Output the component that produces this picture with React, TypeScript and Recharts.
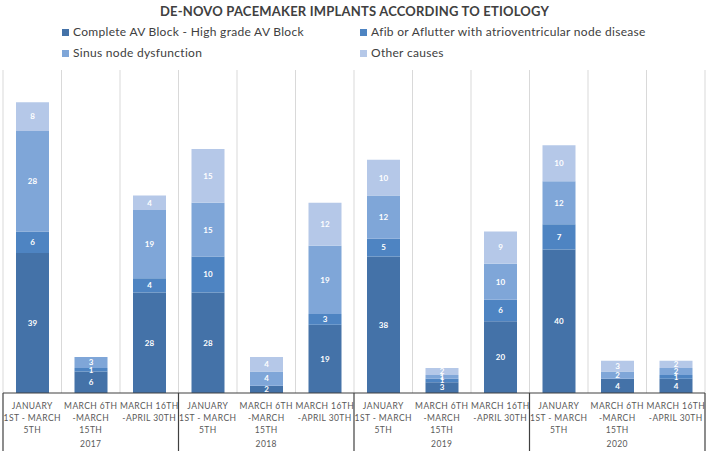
import React from "react";
import { BarChart, Bar, XAxis, YAxis, CartesianGrid, LabelList } from "recharts";

// Colours (Excel-ish blue ramp)
const C = {
  complete: "#4472A8",
  afib: "#4E84C2",
  sinus: "#7FA6D8",
  other: "#B5C8E8",
  ink: "#404040",
  tick: "#595959",
  grid: "#D9D9D9",
};

const years = ["2017", "2018", "2019", "2020"];
const periodLines = [
  ["JANUARY", "1ST - MARCH", "5TH"],
  ["MARCH 6TH", "-MARCH", "15TH"],
  ["MARCH 16TH", "-APRIL 30TH"],
];

const complete = [39, 6, 28, 28, 2, 19, 38, 3, 20, 40, 4, 4];
const afib = [6, 1, 4, 10, 0, 3, 5, 1, 6, 7, 0, 1];
const sinus = [28, 3, 19, 15, 4, 19, 12, 1, 10, 12, 2, 2];
const other = [8, 0, 4, 15, 4, 12, 10, 2, 9, 10, 3, 2];

const series = [
  { key: "complete", name: "Complete AV Block - High grade AV Block", color: C.complete },
  { key: "afib", name: "Afib or Aflutter with atrioventricular node disease", color: C.afib },
  { key: "sinus", name: "Sinus node dysfunction", color: C.sinus },
  { key: "other", name: "Other causes", color: C.other },
];

const data = complete.map((v, i) => ({
  cat: `${years[Math.floor(i / 3)]}|${i % 3}`,
  complete: v,
  afib: afib[i],
  sinus: sinus[i],
  other: other[i],
}));

const font = "Lato, 'Open Sans', sans-serif";

function PeriodTick(props: any) {
  const { x, y, payload, index } = props;
  const half = payload?.offset ?? 29;
  const [year, p] = String(payload.value).split("|");
  const lines = periodLines[Number(p)];
  const boxH = 58;
  return (
    <g>
      {index % 3 === 0 && <line x1={x - half} x2={x - half} y1={y} y2={y + boxH} stroke={C.ink} strokeWidth={1.2} />}
      {index === data.length - 1 && <line x1={x + half} x2={x + half} y1={y} y2={y + boxH} stroke={C.ink} strokeWidth={1.2} />}
      <text x={x} y={y} textAnchor="middle" fill={C.tick} fontSize={8.5} fontFamily={font} letterSpacing={0.4}>
        {lines.map((l, i) => (
          <tspan key={i} x={x} dy={i === 0 ? 16 : 12}>{l}</tspan>
        ))}
      </text>
      {Number(p) === 1 && (
        <text x={x} y={y + 54} textAnchor="middle" fill={C.tick} fontSize={8.5} fontFamily={font} letterSpacing={0.4}>{year}</text>
      )}
    </g>
  );
}

function Legend() {
  const item = (s: typeof series[number], left: number, top: number) => (
    <div key={s.key} style={{ position: "absolute", left, top, display: "flex", alignItems: "center", gap: 4, fontSize: 12, letterSpacing: 0.3, color: C.ink, fontFamily: font, whiteSpace: "nowrap", lineHeight: "16px" }}>
      <span style={{ width: 7, height: 7, background: s.color, display: "inline-block" }} />
      {s.name}
    </div>
  );
  return (
    <>
      {item(series[0], 62, 24)}
      {item(series[1], 360, 24)}
      {item(series[2], 62, 45)}
      {item(series[3], 360, 45)}
    </>
  );
}

export default function App() {
  return (
    <div style={{ position: "absolute", left: 0, top: 0, width: 709, height: 455, background: "#fff", fontFamily: font }}>
      <div style={{ position: "absolute", left: 0, width: 709, top: 3, textAlign: "center", fontSize: 13, fontWeight: 700, color: C.ink, letterSpacing: 0.2 }}>
        DE-NOVO PACEMAKER IMPLANTS ACCORDING TO ETIOLOGY
      </div>
      <Legend />
      <BarChart width={709} height={455} data={data} margin={{ top: 70, right: 4, left: 3, bottom: 4 }} style={{ position: "absolute", left: 0, top: 0 }}>
        <CartesianGrid
          horizontal={false}
          stroke={C.grid}
          verticalCoordinatesGenerator={({ offset }: any) =>
            Array.from({ length: data.length + 1 }, (_, i) => offset.left + (i * offset.width) / data.length)
          }
        />
        <XAxis dataKey="cat" interval={0} tickLine={false} tickSize={0} tickMargin={0} height={58}
          axisLine={{ stroke: C.ink, strokeWidth: 1.2 }} tick={<PeriodTick />} />
        <YAxis hide domain={[0, 90]} />
        {series.map((s) => (
          <Bar key={s.key} dataKey={s.key} name={s.name} stackId="a" fill={s.color} barSize={33} isAnimationActive={false}>
            <LabelList dataKey={s.key} position="center" fill="#fff" fontSize={8} fontWeight={700} fontFamily={font} />
          </Bar>
        ))}
      </BarChart>
    </div>
  );
}
